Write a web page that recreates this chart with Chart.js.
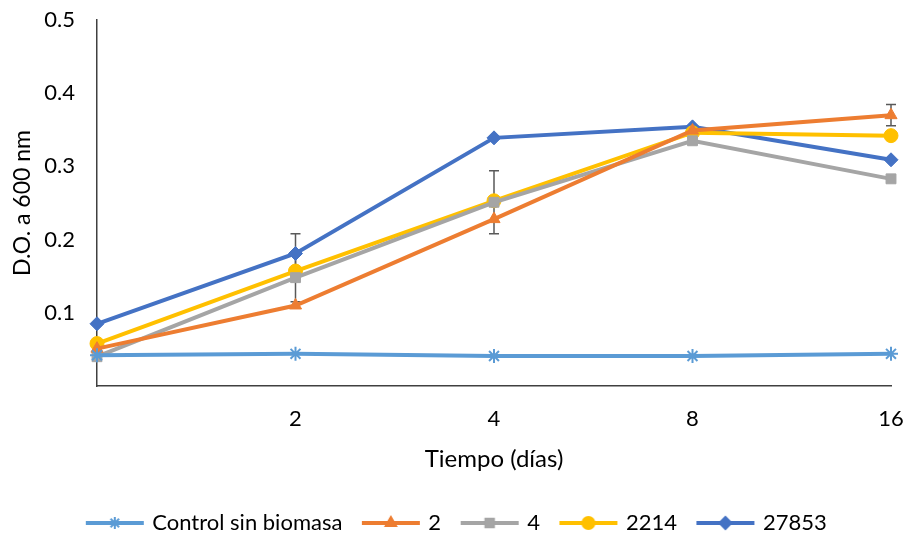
<!DOCTYPE html>
<html>
<head>
<meta charset="utf-8">
<script src="https://cdn.jsdelivr.net/npm/chart.js@4"></script>
<style>
  html, body { margin: 0; padding: 0; background: #fff; }
  #wrap { width: 909px; height: 537px; }
</style>
</head>
<body>
<div id="wrap"><canvas id="grafico" width="909" height="537"></canvas></div>
<script>
// dias de muestreo (el primero sin etiqueta)
const dias = ['', '2', '4', '8', '16'];

const nombres = ['Control sin biomasa', '2', '4', '2214', '27853'];
const control = [0.042, 0.044, 0.041, 0.041, 0.044];
const cepa2 = [0.051, 0.110, 0.228, 0.349, 0.370];
const cepa4 = [0.040, 0.148, 0.251, 0.335, 0.283];
const cepa2214 = [0.058, 0.157, 0.253, 0.346, 0.342];
const cepa27853 = [0.085, 0.181, 0.339, 0.354, 0.309];

// barras de error (solo donde se ven)
const errCepa2 = [0, 0, 0, 0, 0.0145];
const errCepa4 = [0, 0.033, 0.043, 0, 0];
const errCepa27853 = [0, 0.027, 0, 0, 0];

const yTicks = [0.1, 0.2, 0.3, 0.4, 0.5];

const colores = ['#5B9BD5', '#ED7D31', '#A5A5A5', '#FFC000', '#4472C4'];
const marcas = ['star', 'triangle', 'rect', 'circle', 'rectRot'];
const fuente = 'Lato, "Noto Sans", sans-serif';

// icono de leyenda: linea con marcador en medio
function iconoLeyenda(color, estilo) {
    const c = document.createElement('canvas');
    c.width = 62; c.height = 16;
    const ctx = c.getContext('2d');
    ctx.strokeStyle = color;
    ctx.lineWidth = 4;
    ctx.beginPath();
    ctx.moveTo(2, 8); ctx.lineTo(60, 8);
    ctx.stroke();
    ctx.fillStyle = color;
    ctx.lineWidth = 2;
    Chart.helpers.drawPoint(ctx, { pointStyle: estilo, radius: 6, borderWidth: 2 }, 31, 8);
    ctx.fill();
    return c;
}

const errorBars = {
    id: 'errorBars',
    beforeDatasetsDraw(chart) {
        const ctx = chart.ctx;
        const y = chart.scales.y;
        ctx.save();
        ctx.strokeStyle = '#595959';
        ctx.lineWidth = 1.5;
        chart.data.datasets.forEach((ds, i) => {
            if (!ds.errores) return;
            const meta = chart.getDatasetMeta(i);
            ds.errores.forEach((e, j) => {
                if (!e) return;
                const px = meta.data[j].x;
                const top = y.getPixelForValue(ds.data[j] + e);
                const bot = y.getPixelForValue(ds.data[j] - e);
                ctx.beginPath();
                ctx.moveTo(px, top); ctx.lineTo(px, bot);
                ctx.moveTo(px - 5, top); ctx.lineTo(px + 5, top);
                ctx.moveTo(px - 5, bot); ctx.lineTo(px + 5, bot);
                ctx.stroke();
            });
        });
        ctx.restore();
    }
};

const series = [control, cepa2, cepa4, cepa2214, cepa27853];
const errores = [null, errCepa2, errCepa4, null, errCepa27853];

const datasets = series.map((d, i) => ({
    label: nombres[i],
    data: d,
    errores: errores[i],
    borderColor: colores[i],
    backgroundColor: colores[i],
    borderWidth: 4,
    pointStyle: marcas[i],
    pointRadius: 7,
    pointBorderWidth: i === 0 ? 2 : 1,
    pointBackgroundColor: colores[i],
    pointBorderColor: colores[i],
    tension: 0
}));

new Chart(document.getElementById('grafico'), {
    type: 'line',
    data: { labels: dias, datasets: datasets },
    plugins: [errorBars],
    options: {
        responsive: false,
        animation: false,
        layout: { padding: { left: 24, right: 18, top: 20, bottom: -7 } },
        plugins: {
            tooltip: { enabled: false },
            legend: {
                position: 'bottom',
                labels: {
                    usePointStyle: true,
                    pointStyleWidth: 53,
                    boxHeight: 16,
                    padding: 22,
                    color: '#000',
                    font: { family: fuente, size: 22 },
                    generateLabels(chart) {
                        return chart.data.datasets.map((ds, i) => ({
                            text: ds.label,
                            pointStyle: iconoLeyenda(colores[i], marcas[i]),
                            fillStyle: colores[i],
                            strokeStyle: colores[i],
                            lineWidth: 0,
                            datasetIndex: i,
                            fontColor: '#000'
                        }));
                    }
                }
            }
        },
        scales: {
            x: {
                offset: false,
                grid: { display: false, drawTicks: true, tickLength: 20 },
                border: { display: true, color: '#404040', width: 1.5 },
                ticks: { color: '#000', padding: 0, font: { family: fuente, size: 22 }, maxRotation: 0 },
                title: { display: true, text: 'Tiempo (días)', color: '#000', padding: { top: 4, bottom: 16 }, font: { family: fuente, size: 24 } },
                afterFit(scale) { scale.height = 104; }
            },
            y: {
                min: 0,
                max: 0.5,
                afterBuildTicks(scale) { scale.ticks = [0].concat(yTicks).map(v => ({ value: v })); },
                grid: { display: false, drawTicks: true, tickLength: 22 },
                border: { display: true, color: '#404040', width: 1.5 },
                ticks: {
                    color: '#000',
                    padding: 0,
                    font: { family: fuente, size: 22 },
                    callback: v => v === 0 ? '' : v.toFixed(1)
                },
                title: { display: true, text: 'D.O. a 600 nm', color: '#000', padding: { top: -15, bottom: 0 }, font: { family: fuente, size: 23 } },
                afterFit(scale) { scale.width = 73; }
            }
        }
    }
});
</script>
</body>
</html>
